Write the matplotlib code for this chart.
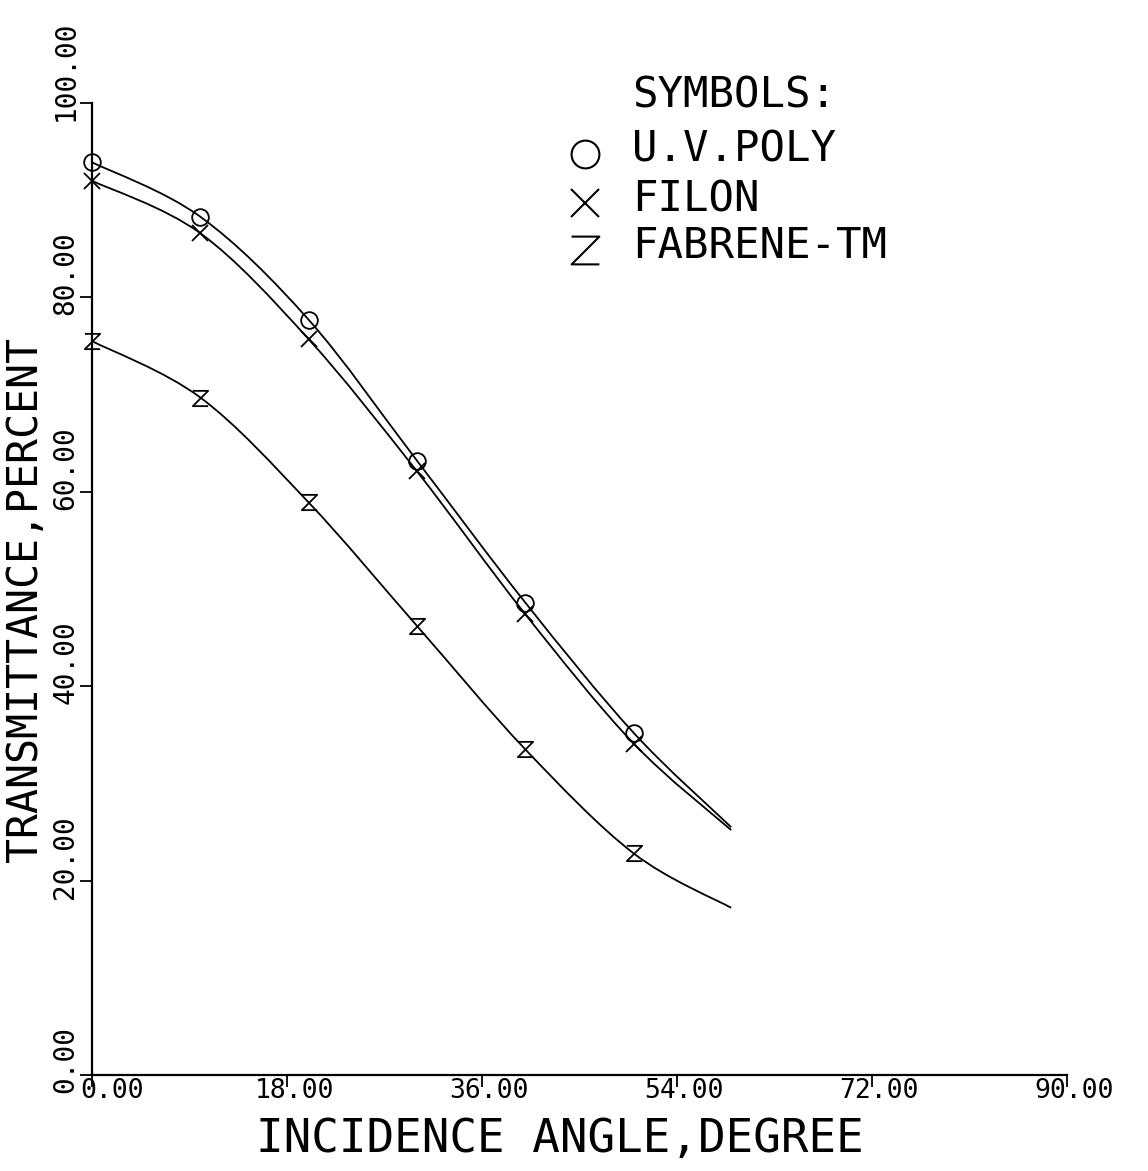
import matplotlib
matplotlib.use("Agg")
import matplotlib.pyplot as plt
from matplotlib.path import Path
from matplotlib.patches import PathPatch
from matplotlib.transforms import ScaledTranslation

# ---- data ----
angle = [0, 10, 20, 30, 40, 50, 59]
uv_poly = [93.9, 88.3, 77.7, 63.2, 48.6, 35.2, 25.5]
filon = [92.0, 86.6, 75.7, 62.1, 47.4, 34.1, 25.2]
fabrene = [75.5, 69.7, 58.9, 46.2, 33.5, 22.8, 17.2]

x_ticks = [0, 18, 36, 54, 72, 90]
y_ticks = [0, 20, 40, 60, 80, 100]
x_tick_labels = ["0.00", "18.00", "36.00", "54.00", "72.00", "90.00"]
y_tick_labels = ["0.00", "20.00", "40.00", "60.00", "80.00", "100.00"]
series_names = ["U.V.POLY", "FILON", "FABRENE-TM"]

FONT = "DejaVu Sans Mono"
W, H = 1148, 1171
fig = plt.figure(figsize=(W / 100, H / 100), dpi=100)
fig.patch.set_facecolor("white")

ax = fig.add_axes([92 / W, 96 / H, (1067 - 92) / W, 972 / H])
ax.set_xlim(0, 90)
ax.set_ylim(0, 100)
for s in ["top", "right"]:
    ax.spines[s].set_visible(False)
for s in ["left", "bottom"]:
    ax.spines[s].set_linewidth(1.6)
    ax.spines[s].set_color("black")

z_marker = Path([(-1, 1), (1, 1), (-1, -1), (1, -1)],
                [Path.MOVETO, Path.LINETO, Path.LINETO, Path.LINETO])


def smooth_path(xs, ys):
    """Smooth drawing path through the given points (Catmull-Rom as Bezier)."""
    pts = list(zip(xs, ys))
    n = len(pts)
    verts = [pts[0]]
    codes = [Path.MOVETO]
    for i in range(n - 1):
        p0 = pts[i - 1] if i > 0 else pts[i]
        p1 = pts[i]
        p2 = pts[i + 1]
        p3 = pts[i + 2] if i + 2 < n else pts[i + 1]
        c1 = (p1[0] + (p2[0] - p0[0]) / 6, p1[1] + (p2[1] - p0[1]) / 6)
        c2 = (p2[0] - (p3[0] - p1[0]) / 6, p2[1] - (p3[1] - p1[1]) / 6)
        verts += [c1, c2, p2]
        codes += [Path.CURVE4] * 3
    return Path(verts, codes)


markers = ["o", "x", z_marker]
sizes = [12, 12, 11]
for vals, mk, ms in zip([uv_poly, filon, fabrene], markers, sizes):
    ax.add_patch(PathPatch(smooth_path(angle, vals), facecolor="none",
                           edgecolor="black", lw=1.3, clip_on=False))
    ax.plot(angle[:-1], vals[:-1], linestyle="none", marker=mk, markersize=ms,
            markerfacecolor="none", markeredgecolor="black", markeredgewidth=1.3,
            clip_on=False)

ax.set_xticks(x_ticks)
ax.set_xticklabels(x_tick_labels, fontfamily=FONT, fontsize=19)
ax.set_yticks(y_ticks)
ax.set_yticklabels(y_tick_labels, fontfamily=FONT, fontsize=20,
                   rotation=90, ha="right", va="bottom")
ax.tick_params(axis="both", direction="out", length=8.6, width=1.3, color="black")
ax.tick_params(axis="x", pad=-6.5)
ax.tick_params(axis="y", pad=0.5)

for i, lab in enumerate(ax.get_xticklabels()):
    shift = 20 if i == 0 else 7
    lab.set_transform(lab.get_transform() +
                      ScaledTranslation(shift / 100, 0, fig.dpi_scale_trans))
dy = ScaledTranslation(0, -18 / 100, fig.dpi_scale_trans)
for lab in ax.get_yticklabels():
    lab.set_transform(lab.get_transform() + dy)

# axis titles
fig.text(560 / W, 1 - 1140 / H, "INCIDENCE ANGLE,DEGREE", fontfamily=FONT,
         fontsize=33, ha="center", va="center")
fig.text(25 / W, 1 - 600 / H, "TRANSMITTANCE,PERCENT", fontfamily=FONT,
         fontsize=30, ha="center", va="center", rotation=90)

# symbol legend
fig.text(632 / W, 1 - 95 / H, "SYMBOLS:", fontfamily=FONT, fontsize=30.5,
         ha="left", va="center")
leg_y = [150, 199, 246]
leg_markers = ["o", "x", z_marker]
for name, yy, mk in zip(series_names, leg_y, leg_markers):
    fig.text(632 / W, 1 - yy / H, name, fontfamily=FONT, fontsize=30.5,
             ha="left", va="center")
    fig.add_artist(plt.Line2D([585 / W], [1 - (yy + 4) / H], marker=mk, markersize=20,
                              markerfacecolor="none", markeredgecolor="black",
                              markeredgewidth=1.5, linestyle="none",
                              transform=fig.transFigure))

fig.savefig("out.png", dpi=100)
